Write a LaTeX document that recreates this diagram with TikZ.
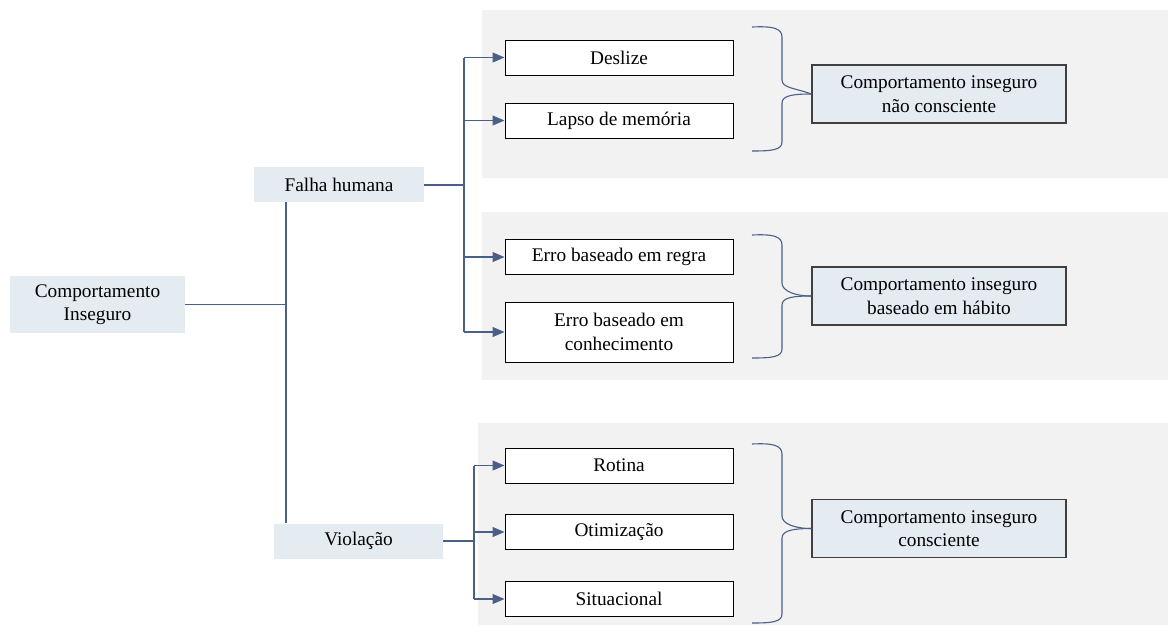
\documentclass[tikz,border=0pt]{standalone}
\usepackage{fontspec}
\setmainfont{Liberation Serif}
\usetikzlibrary{arrows.meta,calc}
\definecolor{linecol}{HTML}{4A6088}
\definecolor{nodefill}{HTML}{E4ECF2}
\definecolor{panelfill}{HTML}{F2F2F2}
\begin{document}
\begin{tikzpicture}[x=1pt,y=-1pt,
  every node/.style={font=\fontsize{19.3}{23.5}\selectfont, inner sep=0pt, align=center},
  catbox/.style={fill=nodefill, minimum width=#1, minimum height=35},
  itembox/.style={draw=black, line width=1pt, fill=white, minimum width=228, minimum height=35},
  groupbox/.style={draw=black!75, line width=1.2pt, fill=nodefill, minimum width=254, minimum height=58},
  link/.style={draw=linecol, line width=1.1pt},
  thicklink/.style={draw=linecol, line width=2pt},
  arr/.style={link, -{Triangle[length=12pt,width=10pt]}},
  brace/.style={draw=linecol, line width=1.1pt},
  panel/.style={fill=panelfill, draw=none}]

\useasboundingbox (0,0) rectangle (1168,625);

% grey background panels
\path[panel] (482,10) rectangle (1168,178);
\path[panel] (482,212) rectangle (1168,380);
\path[panel] (478,423) rectangle (1168,625);

% left-hand categories
\node[catbox=175, minimum height=57] (root) at (97.5,304.5) {Comportamento\\Inseguro};
\node[catbox=170] (falha) at (339,184.5) {Falha humana};
\node[catbox=169] (viol) at (358.5,541) {Violação};

% item boxes
\node[itembox] (deslize) at (619,57.5) {Deslize};
\node[itembox] (lapso) at (619,120.5) {Lapso de memória};
\node[itembox] (regra) at (619,257) {Erro baseado em regra};
\node[itembox, minimum height=60] (conhec) at (619,332) {Erro baseado em\\conhecimento};
\node[itembox] (rotina) at (619,465.5) {Rotina};
\node[itembox] (otim) at (619,532) {Otimização};
\node[itembox] (situ) at (619,599) {Situacional};

% group summary boxes
\node[groupbox] (g1) at (939,94) {Comportamento inseguro\\não consciente};
\node[groupbox] (g2) at (939,296) {Comportamento inseguro\\baseado em hábito};
\node[groupbox] (g3) at (939,528.5) {Comportamento inseguro\\consciente};

% trunk
\coordinate (tr) at (286,304.5);
\draw[link] (falha.south -| tr) -- (viol.north -| tr);
\draw[link] (root.east) -- (tr);

% human failure branch
\coordinate (fb) at (464,184.5);
\draw[thicklink] (falha.east) -- (fb);
\draw[link] (fb |- deslize.west) -- (fb |- conhec.west);
\draw[arr] (fb |- deslize.west) -- (deslize.west);
\draw[arr] (fb |- lapso.west) -- (lapso.west);
\draw[arr] (fb |- regra.west) -- (regra.west);
\draw[arr] (fb |- conhec.west) -- (conhec.west);

% violation branch
\coordinate (vb) at (474,541);
\draw[thicklink] (viol.east) -- (vb);
\draw[link] (vb |- rotina.west) -- (vb |- situ.west);
\draw[arr] (vb |- rotina.west) -- (rotina.west);
\draw[arr] (vb |- otim.west) -- (otim.west);
\draw[arr] (vb |- situ.west) -- (situ.west);

% curly brackets grouping the items
\draw[brace] (752,27) .. controls (772,26) and (782,28) .. (782,37) -- (782,80)
  .. controls (782,88) and (795,88) .. (g1.west);
\draw[brace] (g1.west) .. controls (795,94) and (782,95) .. (782,103) -- (782,142)
  .. controls (782,150) and (772,151) .. (752,151);

\draw[brace] (752,235) .. controls (772,234) and (782,236) .. (782,245) -- (782,283)
  .. controls (782,291) and (795,296) .. (g2.west);
\draw[brace] (g2.west) .. controls (795,296) and (782,297) .. (782,305) -- (782,349)
  .. controls (782,357) and (772,358) .. (752,358);

\draw[brace] (752,444) .. controls (772,443) and (782,445) .. (782,454) -- (782,516)
  .. controls (782,524) and (795,528.5) .. (g3.west);
\draw[brace] (g3.west) .. controls (795,528.5) and (782,530) .. (782,538) -- (782,614)
  .. controls (782,622) and (772,623) .. (752,623);
\end{tikzpicture}
\end{document}
